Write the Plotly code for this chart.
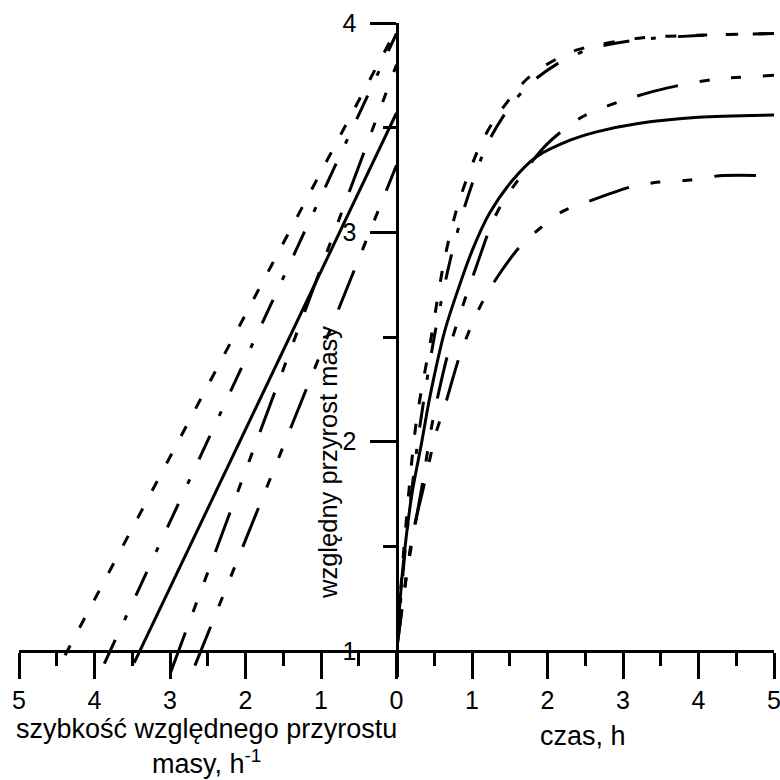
import plotly.graph_objects as go

# ---------------- data ----------------
# right panel: time, h  ->  relative mass increase
t_short = [0, 0.10, 0.26, 0.46, 0.64, 0.83, 1.10, 1.32, 1.72, 2.03, 2.38, 2.73, 3.26, 3.88, 5.0]
y_short = [1, 1.50, 2.09, 2.50, 2.88, 3.15, 3.41, 3.55, 3.73, 3.81, 3.87, 3.90, 3.93, 3.94, 3.95]

t_dashdot = [0, 0.12, 0.30, 0.50, 0.70, 0.90, 1.20, 1.50, 1.80, 2.20, 2.60, 3.20, 4.00, 5.0]
y_dashdot = [1, 1.50, 2.05, 2.50, 2.85, 3.12, 3.42, 3.60, 3.72, 3.82, 3.88, 3.92, 3.94, 3.95]

t_solid = [0, 0.08, 0.20, 0.33, 0.44, 0.64, 0.79, 1.01, 1.23, 1.54, 1.85, 2.30, 2.65, 3.20, 4.00, 5.0]
y_solid = [1, 1.38, 1.74, 1.99, 2.21, 2.53, 2.70, 2.92, 3.09, 3.25, 3.36, 3.44, 3.48, 3.52, 3.55, 3.56]

t_ddd_a = [0, 0.15, 0.33, 0.48, 0.68, 0.86, 1.07, 1.26, 1.40, 1.59, 1.99, 2.45, 3.00, 3.59, 4.19, 5.0]
y_ddd_a = [1, 1.40, 1.77, 2.10, 2.42, 2.63, 2.85, 3.04, 3.14, 3.24, 3.42, 3.55, 3.63, 3.69, 3.73, 3.75]

t_ddd_b = [0, 0.21, 0.35, 0.53, 0.64, 0.81, 0.93, 1.10, 1.27, 1.63, 1.87, 2.20, 2.56, 3.13, 3.48, 3.90, 4.28, 5.0]
y_ddd_b = [1, 1.55, 1.77, 2.05, 2.17, 2.38, 2.50, 2.64, 2.75, 2.93, 3.01, 3.10, 3.15, 3.22, 3.24, 3.25, 3.27, 3.27]

# left panel: relative growth rate, 1/h  ->  relative mass increase (straight lines)
r_short = [4.39, 0.0]
ry_short = [0.98, 3.97]
r_dashdot = [3.87, 0.0]
ry_dashdot = [0.94, 3.95]
r_solid = [3.475, 0.0]
ry_solid = [0.943, 3.57]
r_ddd_a = [2.99, 0.0]
ry_ddd_a = [0.90, 3.80]
r_ddd_b = [2.67, 0.0]
ry_ddd_b = [0.93, 3.32]

x_ticks_left = [5, 4, 3, 2, 1]
x_ticks_right = [0, 1, 2, 3, 4, 5]
x_minor_left = [4.5, 3.5, 2.5, 1.5, 0.5]
x_minor_right = [0.5, 1.5, 2.5, 3.5, 4.5]
y_ticks = [1, 2, 3, 4]
y_minor = [1.5, 2.5, 3.5]

x_title_left = "szybkość względnego przyrostu<br>masy, h<sup>-1</sup>"
x_title_right = "czas, h"
y_title = "względny przyrost masy"

# ---------------- styling ----------------
W = H = 780
L, R, T, B = 19, 6, 23, 103
PLOT_H = H - T - B
PLOT_W = W - L - R
AXIS_PX = 651                     # pixel row of y = 1
PX_PER_Y = (AXIS_PX - T) / 3.0
y_bottom = 1 - (H - B - AXIS_PX) / PX_PER_Y
x_axis_pos = (H - B - AXIS_PX) / PLOT_H

FONT = "Liberation Sans, Arial, sans-serif"
LW = 3

styles = {
    "short": "11px,20px",
    "dashdot": "26px,22px,5px,22px",
    "solid": "solid",
    "ddd": "42px,22px,10px,22px,10px,22px",
}

fig = go.Figure()

left = [(r_short, ry_short, "short"), (r_dashdot, ry_dashdot, "dashdot"),
        (r_solid, ry_solid, "solid"), (r_ddd_a, ry_ddd_a, "ddd"), (r_ddd_b, ry_ddd_b, "ddd")]
right = [(t_short, y_short, "short"), (t_dashdot, y_dashdot, "dashdot"),
         (t_solid, y_solid, "solid"), (t_ddd_a, y_ddd_a, "ddd"), (t_ddd_b, y_ddd_b, "ddd")]

for xs, ys, st in left:
    fig.add_trace(go.Scatter(x=xs, y=ys, mode="lines", xaxis="x", yaxis="y",
                             line=dict(color="black", width=LW, dash=styles[st]),
                             showlegend=False, hoverinfo="skip"))
for xs, ys, st in right:
    fig.add_trace(go.Scatter(x=xs, y=ys, mode="lines", xaxis="x2", yaxis="y",
                             line=dict(color="black", width=LW, dash=styles[st],
                                       shape="spline", smoothing=0.8),
                             showlegend=False, hoverinfo="skip"))

tickfont = dict(family=FONT, size=25, color="black")
common_x = dict(anchor="free", position=x_axis_pos, showline=True, linewidth=LW,
                linecolor="black", ticks="outside", ticklen=26, tickwidth=LW,
                tickcolor="black", showgrid=False, zeroline=False, tickfont=tickfont,
                ticklabeloverflow="allow", automargin=False)

fig.update_layout(
    width=W, height=H,
    margin=dict(l=L, r=R, t=T, b=B, autoexpand=False),
    paper_bgcolor="white", plot_bgcolor="white",
    showlegend=False,
    xaxis=dict(domain=[0, 0.5], range=[5, 0], tickvals=x_ticks_left,
               ticktext=[str(v) for v in x_ticks_left],
               minor=dict(tickvals=x_minor_left, ticks="outside", ticklen=13,
                          tickwidth=LW, tickcolor="black", showgrid=False),
               **common_x),
    xaxis2=dict(domain=[0.5, 1], range=[0, 5], tickvals=x_ticks_right,
                ticktext=[str(v) for v in x_ticks_right],
                minor=dict(tickvals=x_minor_right, ticks="outside", ticklen=13,
                           tickwidth=LW, tickcolor="black", showgrid=False),
                **common_x),
    yaxis=dict(domain=[0, 1], range=[y_bottom, 4], anchor="free", position=0.5,
               showline=True, linewidth=LW, linecolor="black",
               ticks="outside", ticklen=26, tickwidth=LW, tickcolor="black",
               tickvals=y_ticks, ticktext=[str(v) for v in y_ticks],
               minor=dict(tickvals=y_minor, ticks="outside", ticklen=13,
                          tickwidth=LW, tickcolor="black", showgrid=False),
               showgrid=False, zeroline=False, tickfont=tickfont,
               ticklabelstandoff=8, ticklabeloverflow="allow", automargin=False),
)

def px_x(px):
    return (px - L) / PLOT_W

def px_y(py):
    return (H - B - py) / PLOT_H

fig.add_annotation(text=x_title_left, xref="paper", yref="paper",
                   x=px_x(206), y=px_y(746), xanchor="center", yanchor="middle",
                   showarrow=False, font=dict(family=FONT, size=27, color="black"),
                   align="center")
fig.add_annotation(text=x_title_right, xref="paper", yref="paper",
                   x=px_x(583), y=px_y(736), xanchor="center", yanchor="middle",
                   showarrow=False, font=dict(family=FONT, size=27, color="black"))
fig.add_annotation(text=y_title, xref="paper", yref="paper",
                   x=px_x(328), y=px_y(463), xanchor="center", yanchor="middle",
                   textangle=-90, showarrow=False,
                   font=dict(family=FONT, size=25.5, color="black"))

fig.write_html("out.html",
               config={"displayModeBar": False, "staticPlot": True},
               post_script="document.body.style.margin='0px';"
                           "document.body.style.overflow='hidden';")
